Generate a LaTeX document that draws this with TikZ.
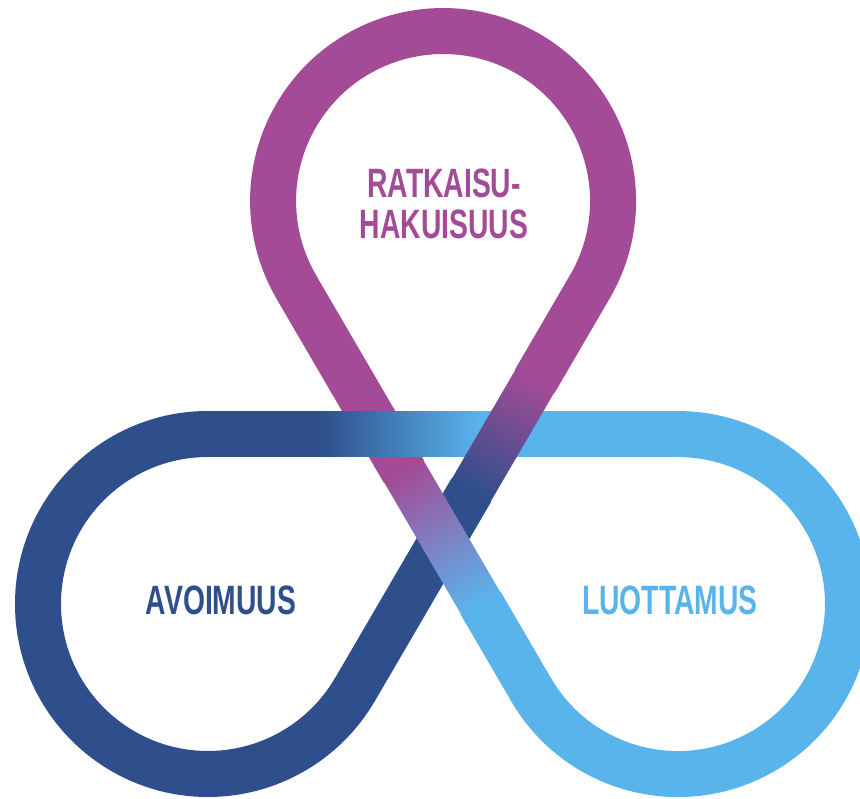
\documentclass[tikz,border=0pt]{standalone}
\usepackage{fontspec}
\setmainfont[FakeStretch=0.69]{Liberation Sans Bold}
\definecolor{dkblue}{HTML}{2E4F8B}
\definecolor{ltblue}{HTML}{5AB4EC}
\definecolor{plum}{HTML}{A34B96}
\tikzset{
  loopband/.style={line width=46pt,line cap=butt},
  lab/.style={inner sep=0pt,align=center,font=\fontsize{41}{41}\selectfont},
}
% band straight: x, y, angle, length, start colour, end colour, fade start, fade end
\newcommand{\bandstrip}[8]{%
  \begin{scope}[transform canvas={shift={(#1,#2)},rotate=#3}]
    \fill[#5] (-1,-23) rectangle (#7+1,23);
    \fill[#6] (#8-1,-23) rectangle (#4+1,23);
    \shade[left color=#5,right color=#6] (#7,-22.5) rectangle (#8,22.5);
  \end{scope}}
\begin{document}
\begin{tikzpicture}[x=1pt,y=1pt]
\useasboundingbox (0,0) rectangle (860,799);
\fill[white] (0,0) rectangle (860,799);
% round loops
\begin{scope}
\clip (0,0) rectangle (860,799);
\draw[loopband,dkblue] (208,365) arc[start angle=90,end angle=329.75,radius=170];
\draw[loopband,ltblue] (531.1,109.3) arc[start angle=210.25,end angle=450,radius=170];
\draw[loopband,plum] (589.9,512.3) arc[start angle=-30.25,end angle=210.25,radius=170];
\end{scope}
% woven straights: NE under NW, NW under horizontal, horizontal under NE
\bandstrip{354.9}{109.3}{59.75}{466.5}{dkblue}{plum}{230}{358}
\bandstrip{296.1}{512.3}{-59.75}{466.5}{plum}{ltblue}{213}{367}
\bandstrip{208}{365}{0}{470}{dkblue}{ltblue}{112}{272}
\begin{scope}
\clip (445,340) rectangle (565,390);
\bandstrip{354.9}{109.3}{59.75}{466.5}{dkblue}{plum}{230}{358}
\end{scope}
% labels
\node[lab,text=plum] (top) at (444,595) {RATKAISU-\\HAKUISUUS};
\node[lab,text=dkblue] (left) at (221,199) {AVOIMUUS};
\node[lab,text=ltblue] (right) at (670,199) {LUOTTAMUS};
\end{tikzpicture}
\end{document}
